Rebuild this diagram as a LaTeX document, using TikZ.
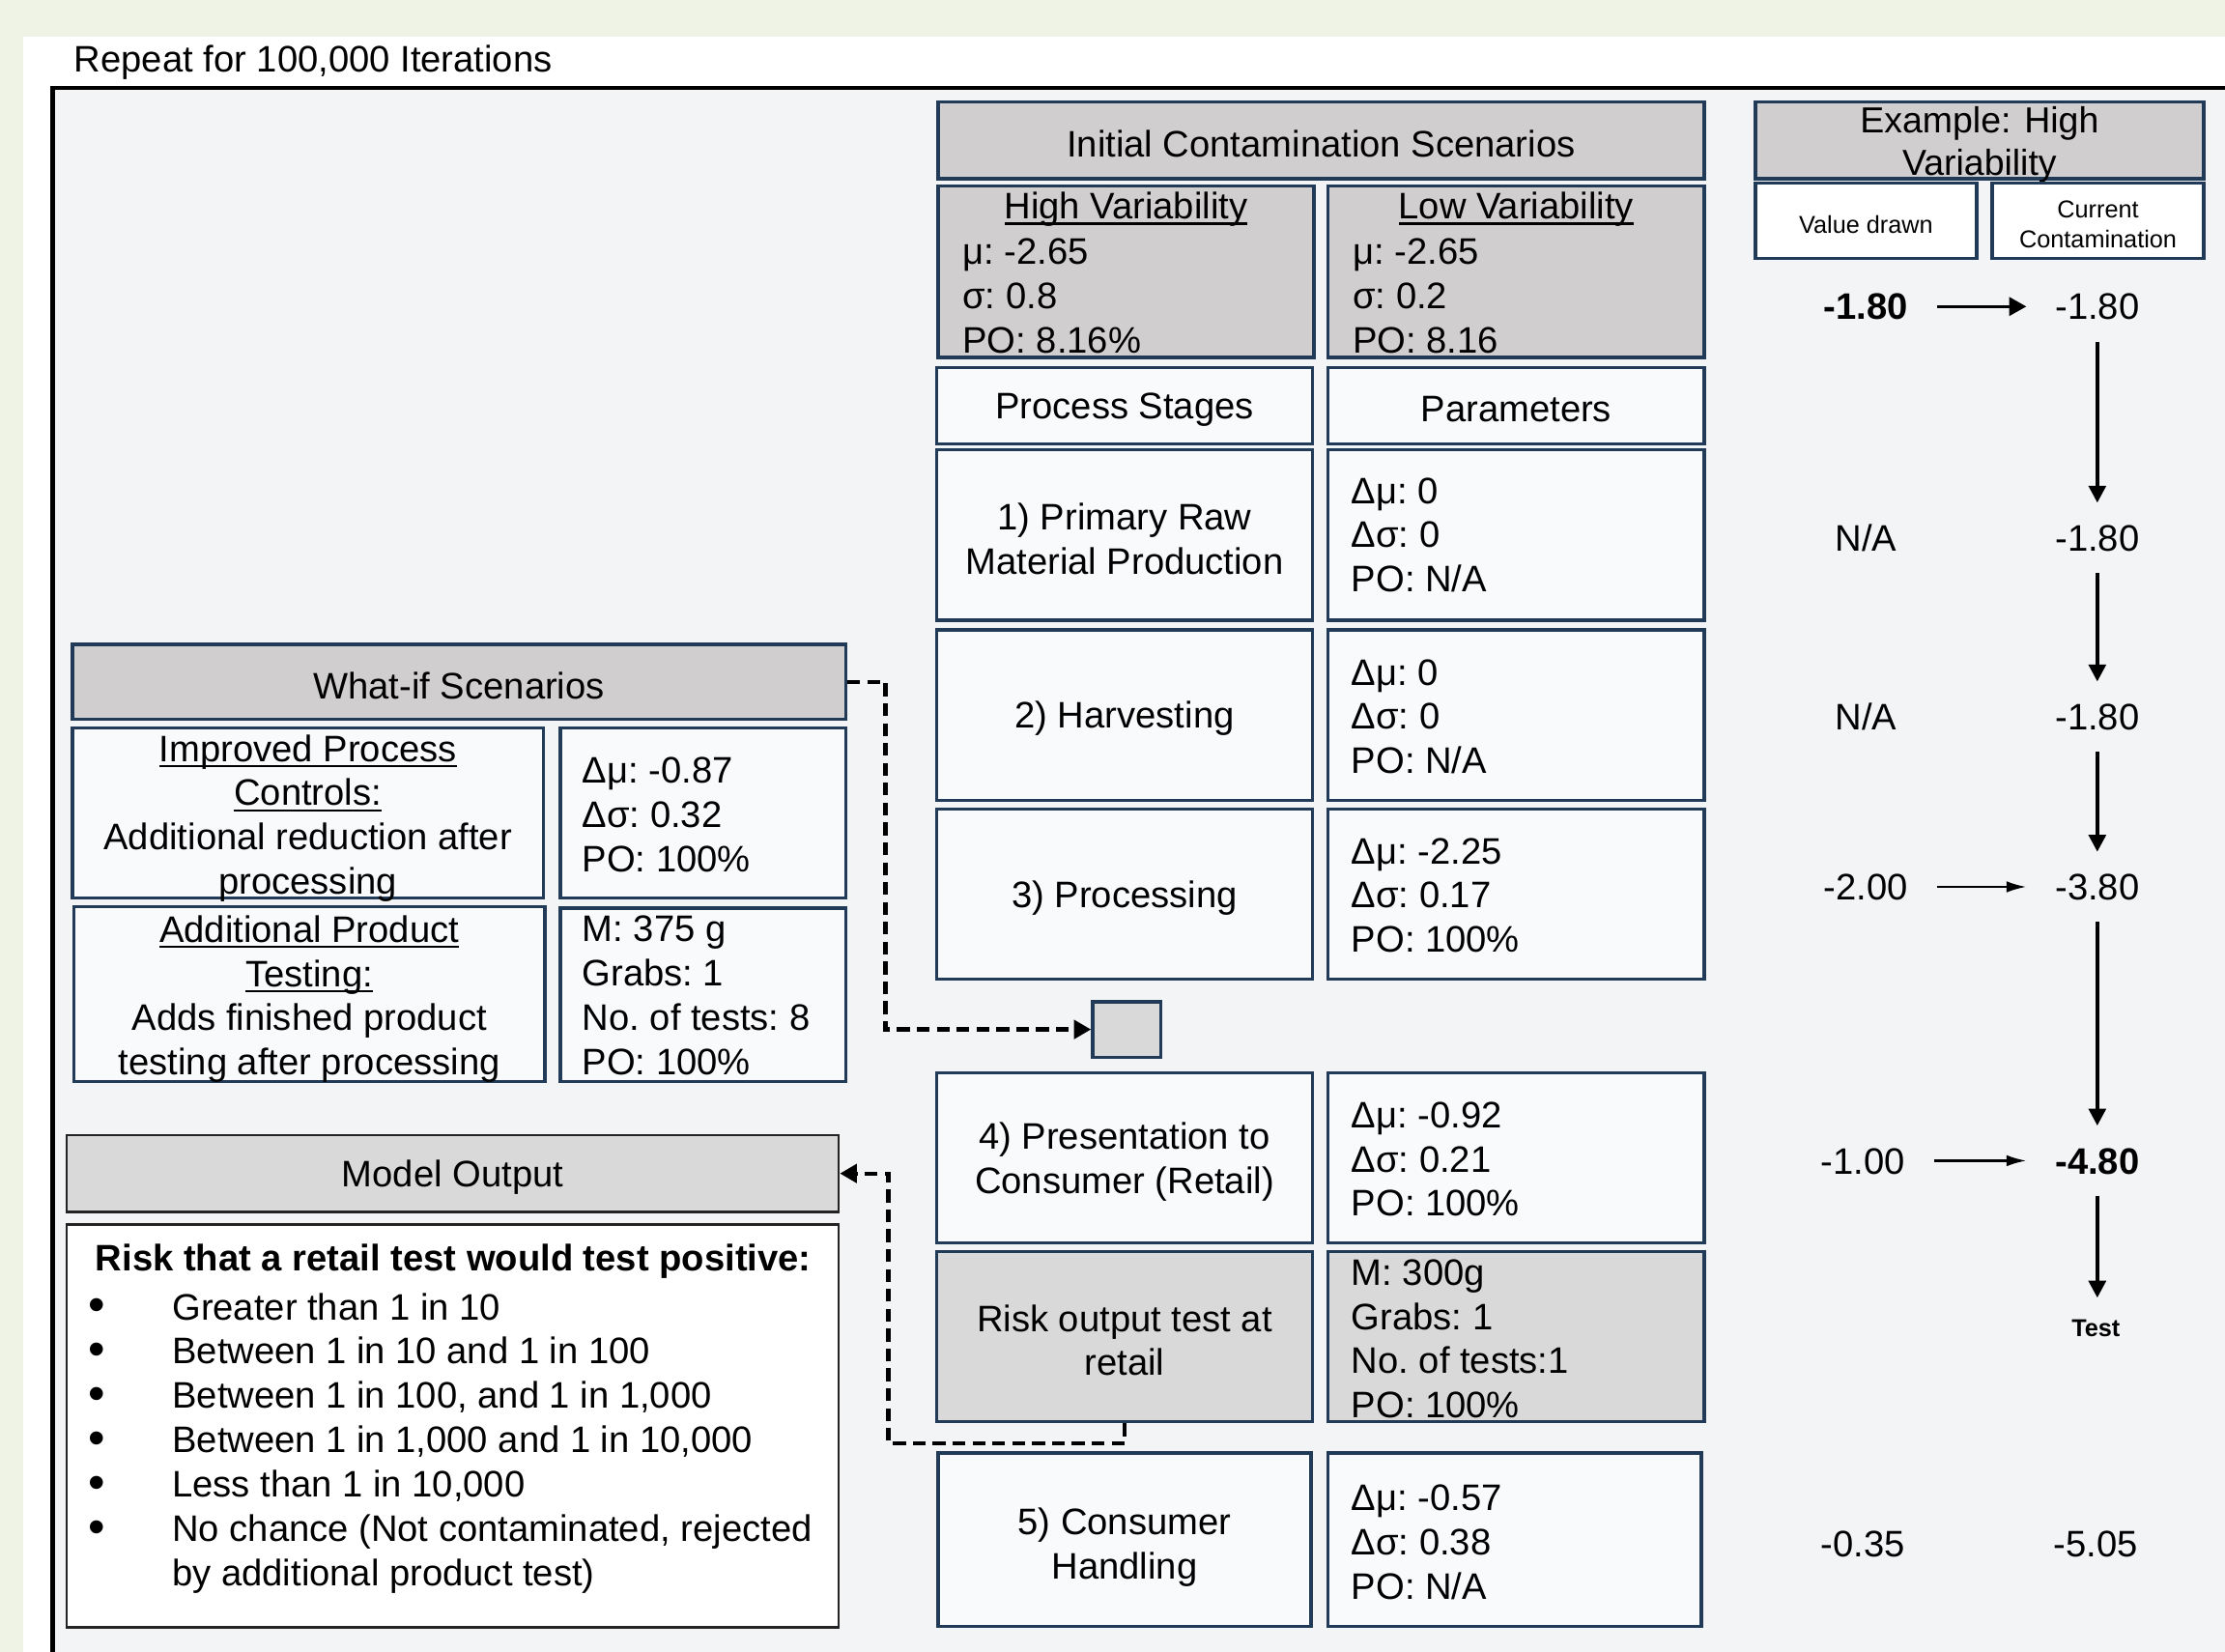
\documentclass[tikz,border=0pt]{standalone}
\usepackage{fontspec}
\setmainfont{Liberation Sans}
\usetikzlibrary{fit,arrows.meta,calc}

\definecolor{pagebg}{RGB}{238,243,229}
\definecolor{framebg}{RGB}{243,244,246}
\definecolor{navy}{RGB}{33,58,88}
\definecolor{hdrgray}{RGB}{208,206,206}
\definecolor{ltgray}{RGB}{217,217,217}
\definecolor{boxwhite}{RGB}{248,250,252}
\definecolor{outline}{RGB}{35,35,35}

\newcommand\fmain{\fontsize{13}{15.6}\selectfont\frenchspacing}
\newcommand\fsmall{\fontsize{8.6}{10.5}\selectfont}
\newcommand\ulx[1]{\setbox0\hbox{#1}\rlap{\rule[-2.1pt]{\wd0}{0.85pt}}\box0}

\begin{document}
\begin{tikzpicture}[x=0.5pt,y=-0.5pt,
  bx/.style={draw=navy, line width=1.15pt, inner sep=0pt},
  gbox/.style={bx, fill=hdrgray},
  wbox/.style={bx, fill=boxwhite},
  lbox/.style={bx, fill=ltgray},
  obox/.style={draw=outline, line width=0.9pt, inner sep=0pt},
  txt/.style={inner sep=0pt, font=\fmain, align=left, anchor=west},
  ctxt/.style={inner sep=0pt, font=\fmain, align=center, yshift=-1.3pt},
  bull/.style={inner sep=0pt, font=\fontsize{17}{17}\selectfont},
  val/.style={inner xsep=10pt, inner ysep=7.5pt, font=\fmain, text height=9.3pt, text depth=0pt},
  varrow/.style={line width=1.3pt, -{Triangle[length=6pt,width=6pt]}},
  harrowA/.style={line width=0.9pt, -{Triangle[length=6pt,width=6.5pt]}},
  harrowB/.style={line width=0.75pt, -{Latex[length=7pt,width=4pt]}},
  dasharr/.style={line width=1.45pt, dash pattern=on 4.5pt off 2.5pt, -{Triangle[length=6pt,width=6.5pt]}}
]
\useasboundingbox (0,0) rectangle (1568,1164);
\clip (0,0) rectangle (1568,1164);
\fill[pagebg] (0,0) rectangle (1568,1164);
\fill[white] (16,26) rectangle (1600,1200);
\draw[line width=1.6pt, fill=framebg] (37,62) rectangle (1620,1220);

\node[txt] (rep) at (52,44) {Repeat for 100,000 Iterations};

% ---------- Initial contamination ----------
\node[gbox, fit={(661,72)(1201,126)}] (ics) {};
\node[ctxt] (icsT) at (ics.center) {Initial Contamination Scenarios};
\node[gbox, fit={(661,131)(926,252)}] (hv) {};
\node[ctxt] (hvt) at (793.5,145) {\ulx{High Variability}};
\node[txt] (hvp) at (678,208.5) {μ: -2.65\\σ: 0.8\\PO: 8.16\%};
\node[gbox, fit={(936,131)(1201,252)}] (lv) {};
\node[ctxt] (lvt) at (1068.5,145) {\ulx{Low Variability}};
\node[txt] (lvp) at (953,208.5) {μ: -2.65\\σ: 0.2\\PO: 8.16};

% ---------- Process stages ----------
\node[wbox, fit={(660,259)(925,313)}] (ps) {};
\node[ctxt] (psT) at (ps.center) {Process Stages};
\node[wbox, fit={(936,259)(1201,313)}] (pa) {};
\node[ctxt] (paT) at (pa.center) {Parameters};

\node[wbox, fit={(660,317)(925,437)}] (s1) {};
\node[ctxt] (s1T) at (s1.center) {1) Primary Raw\\Material Production};
\node[wbox, fit={(936,317)(1201,437)}] (p1) {};
\node[txt] (p1t) at (952,377) {Δμ: 0\\Δσ: 0\\PO: N/A};

\node[wbox, fit={(660,444)(925,564)}] (s2) {};
\node[ctxt] (s2T) at (s2.center) {2) Harvesting};
\node[wbox, fit={(936,444)(1201,564)}] (p2) {};
\node[txt] (p2t) at (952,505) {Δμ: 0\\Δσ: 0\\PO: N/A};

\node[wbox, fit={(660,570)(925,690)}] (s3) {};
\node[ctxt] (s3T) at (s3.center) {3) Processing};
\node[wbox, fit={(936,570)(1201,690)}] (p3) {};
\node[txt] (p3t) at (952,631) {Δμ: -2.25\\Δσ: 0.17\\PO: 100\%};

\node[lbox, fit={(770,706)(818,745)}] (sq) {};

\node[wbox, fit={(660,756)(925,876)}] (s4) {};
\node[ctxt] (s4T) at (s4.center) {4) Presentation to\\Consumer (Retail)};
\node[wbox, fit={(936,756)(1201,876)}] (p4) {};
\node[txt] (p4t) at (952,817) {Δμ: -0.92\\Δσ: 0.21\\PO: 100\%};

\node[lbox, fit={(660,882)(925,1002)}] (ro) {};
\node[ctxt] (roT) at (ro.center) {Risk output test at\\retail};
\node[lbox, fit={(936,882)(1201,1002)}] (rp) {};
\node[txt] (rpt) at (952,943.5) {M: 300g\\Grabs: 1\\No. of tests:1\\PO: 100\%};

\node[wbox, fit={(661,1024)(924,1146)}] (s5) {};
\node[ctxt] (s5T) at (792.5,1088) {5) Consumer\\Handling};
\node[wbox, fit={(936,1024)(1199,1146)}] (p5) {};
\node[txt] (p5t) at (952,1087) {Δμ: -0.57\\Δσ: 0.38\\PO: N/A};

% ---------- Example column ----------
\node[gbox, fit={(1237,72)(1553,126)}] (ex) {};
\node[ctxt, font=\fontsize{12.75}{15}\selectfont] (exT) at (1395,99.5) {Example: High\\Variability};
\node[bx, fill=white, fit={(1237,129)(1393,182)}] (vd) {};
\node[ctxt, font=\fsmall] (vdT) at (vd.center) {Value drawn};
\node[bx, fill=white, fit={(1404,129)(1553,182)}] (cc) {};
\node[ctxt, font=\fsmall] (ccT) at (cc.center) {Current\\Contamination};

\node[val] (v1) at (1315,216) {\bfseries -1.80};
\node[val] (c1) at (1478,216) {-1.80};
\node[val] (v2) at (1315,379) {N/A};
\node[val] (c2) at (1478,379) {-1.80};
\node[val] (v3) at (1315,505) {N/A};
\node[val] (c3) at (1478,505) {-1.80};
\node[val] (v4) at (1315,625) {-2.00};
\node[val] (c4) at (1478,625) {-3.80};
\node[val] (v5) at (1313,818) {-1.00};
\node[val] (c5) at (1478,818) {\bfseries -4.80};
\node[inner xsep=10pt, inner ysep=7.5pt, font=\fsmall\bfseries] (tst) at (1477,936) {Test};
\node[val] (v6) at (1313,1088) {-0.35};
\node[val] (c6) at (1477,1088) {-5.05};

\draw[harrowA] (v1) -- (c1);
\draw[harrowB] (v4) -- (c4);
\draw[harrowB] (v5) -- (c5);
\draw[varrow] (c1) -- (c2);
\draw[varrow] (c2) -- (c3);
\draw[varrow] (c3) -- (c4);
\draw[varrow] (c4) -- (c5);
\draw[varrow] (c5.south) -- (c5.south |- tst.north);

% ---------- What-if ----------
\node[gbox, fit={(51,454)(596,507)}] (wi) {};
\node[ctxt] (wiT) at (wi.center) {What-if Scenarios};
\node[wbox, fit={(51,513)(383,633)}] (ip) {};
\node[ctxt] (ipT) at (217,574) {\ulx{Improved Process}\\\ulx{Controls:}\\Additional reduction after\\processing};
\node[wbox, fit={(395,513)(596,633)}] (ipp) {};
\node[txt] (ippt) at (410,574) {Δμ: -0.87\\Δσ: 0.32\\PO: 100\%};
\node[wbox, fit={(52,639)(384,762)}] (ap) {};
\node[ctxt] (apT) at (218,701.5) {\ulx{Additional Product}\\\ulx{Testing:}\\Adds finished product\\testing after processing};
\node[wbox, fit={(395,640)(596,762)}] (app) {};
\node[txt] (appt) at (410,701.5) {M: 375 g\\Grabs: 1\\No. of tests: 8\\PO: 100\%};

% ---------- Model output ----------
\node[obox, fill=ltgray, fit={(47,800)(591,854)}] (mo) {};
\node[ctxt] (moT) at (mo.center) {Model Output};
\node[obox, fill=white, fit={(47,863)(591,1147)}] (rk) {};
\node[txt] (rkt) at (67,889) {\bfseries Risk that a retail test would test positive:};
\node[bull] (b1) at (68,923) {•};
\node[bull] (b2) at (68,954.3) {•};
\node[bull] (b3) at (68,985.6) {•};
\node[bull] (b4) at (68,1016.9) {•};
\node[bull] (b5) at (68,1048.2) {•};
\node[bull] (b6) at (68,1079.5) {•};
\node[txt] (lst) at (121,1017) {Greater than 1 in 10\\Between 1 in 10 and 1 in 100\\Between 1 in 100, and 1 in 1,000\\Between 1 in 1,000 and 1 in 10,000\\Less than 1 in 10,000\\No chance (Not contaminated, rejected\\by additional product test)};

% ---------- dashed connectors ----------
\coordinate (k0) at (624,725.5);
\draw[dasharr] (wi.east) -| (k0) -- (sq.west);
\coordinate (k1) at (626,1017);
\draw[dasharr] (ro.south) |- (k1) |- (mo.east);
\end{tikzpicture}
\end{document}
